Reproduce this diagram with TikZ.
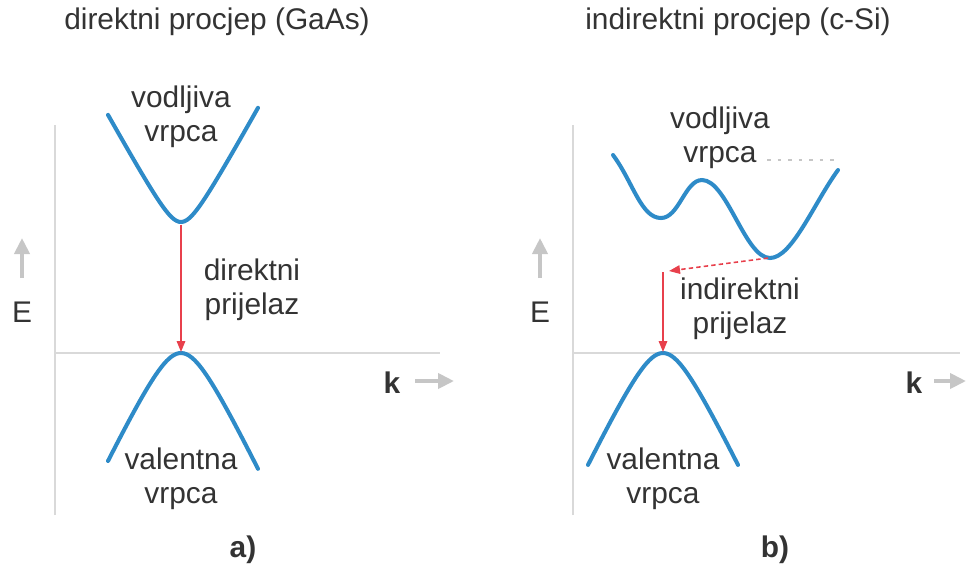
\documentclass[tikz,border=0pt]{standalone}
\usepackage{fontspec}
\setmainfont{Liberation Sans}
\usetikzlibrary{arrows.meta,positioning}
\definecolor{band}{HTML}{2E8BC8}
\definecolor{trans}{HTML}{E8404C}
\definecolor{axisgray}{HTML}{D9D9D9}
\definecolor{hintgray}{HTML}{C6C6C6}
\definecolor{txt}{HTML}{333333}
\begin{document}
\begin{tikzpicture}[x=0.02cm, y=-0.02cm,
    lbl/.style={text=txt, font=\fontsize{17}{19.5}\selectfont, align=center, inner sep=0pt},
    bandline/.style={band, line width=2.3pt, line cap=round},
    axisline/.style={axisgray, line width=1.2pt},
    hint/.style={hintgray, line width=2.2pt, -{Triangle[length=3.2mm, width=3mm]}},
    trarr/.style={trans, line width=0.9pt, -{Triangle[length=2.2mm, width=1.7mm]}}]
  \useasboundingbox (0,0) rectangle (966,583);
  % a) direct gap
  \coordinate (ya0) at (55,515); \coordinate (ya1) at (55,125);
  \coordinate (xa0) at (55,353); \coordinate (xa1) at (440,353);
  \draw[axisline] (ya0) -- (ya1); \draw[axisline] (xa0) -- (xa1);
  \draw[bandline] plot[domain=-73:77, samples=60] ({181+\x},{222-1.8*(sqrt(225+\x*\x)-15)});
  \draw[bandline] plot[domain=-73:77, samples=60] ({181+\x},{353+2.07*(sqrt(625+\x*\x)-25)});
  \coordinate (cbmina) at (181,225); \coordinate (vbmaxa) at (181,352);
  \draw[trarr] (cbmina) -- (vbmaxa);
  \node[lbl] (tita) at (217,22) {direktni procjep (GaAs)};
  \node[lbl] (cba) at (181,117) {vodljiva\\vrpca};
  \node[lbl] (pra) at (252,290) {direktni\\prijelaz};
  \node[lbl] (vba) at (181,479) {valentna\\vrpca};
  \node[lbl] (ea) at (22,312) {E};
  \coordinate (ea0) at (22,278); \coordinate (ea1) at (22,238);
  \draw[hint] (ea0) -- (ea1);
  \node[lbl, font=\fontsize{17}{19.5}\selectfont\bfseries] (ka) at (392,383) {k};
  \coordinate (ka0) at (415,381); \coordinate (ka1) at (454,381);
  \draw[hint] (ka0) -- (ka1);
  \node[lbl, font=\fontsize{17}{19.5}\selectfont\bfseries] (laba) at (243,550) {a)};
  % b) indirect gap
  \coordinate (yb0) at (573,515); \coordinate (yb1) at (573,125);
  \coordinate (xb0) at (573,353); \coordinate (xb1) at (960,353);
  \draw[axisline] (yb0) -- (yb1); \draw[axisline] (xb0) -- (xb1);
  \draw[bandline] (613,155) .. controls +(20,27) and +(-20,0) .. (661,218)
    .. controls +(18,0) and +(-17,0) .. (702,180)
    .. controls +(25,0) and +(-25,0) .. (770,258)
    .. controls +(22,0) and +(-24,33) .. (838,170);
  \draw[bandline] plot[domain=-75:75, samples=60] ({663+\x},{353+2.07*(sqrt(625+\x*\x)-25)});
  \coordinate (gd0) at (767,160); \coordinate (gd1) at (838,160);
  \draw[hintgray, line width=0.8pt, dash pattern=on 2pt off 4pt] (gd0) -- (gd1);
  \coordinate (cbminb) at (768,258); \coordinate (kink) at (669,271);
  \draw[trarr, dash pattern=on 2.5pt off 1.8pt] (cbminb) -- (kink);
  \coordinate (kinkv) at (663,272); \coordinate (vbmaxb) at (663,352);
  \draw[trarr] (kinkv) -- (vbmaxb);
  \node[lbl] (titb) at (738,22) {indirektni procjep (c-Si)};
  \node[lbl] (cbb) at (720,138) {vodljiva\\vrpca};
  \node[lbl] (prb) at (740,309) {indirektni\\prijelaz};
  \node[lbl] (vbb) at (663,479) {valentna\\vrpca};
  \node[lbl] (eb) at (540,312) {E};
  \coordinate (eb0) at (540,278); \coordinate (eb1) at (540,238);
  \draw[hint] (eb0) -- (eb1);
  \node[lbl, font=\fontsize{17}{19.5}\selectfont\bfseries] (kb) at (914,383) {k};
  \coordinate (kb0) at (934,381); \coordinate (kb1) at (966,381);
  \draw[hint] (kb0) -- (kb1);
  \node[lbl, font=\fontsize{17}{19.5}\selectfont\bfseries] (labb) at (775,550) {b)};
\end{tikzpicture}
\end{document}
